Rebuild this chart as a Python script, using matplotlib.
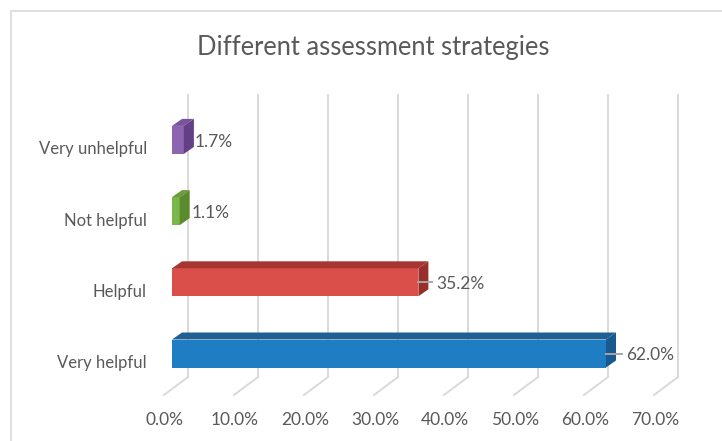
import matplotlib
matplotlib.use("Agg")
import matplotlib.pyplot as plt
from matplotlib.patches import Polygon, Rectangle
from matplotlib.transforms import ScaledTranslation

plt.rcParams['font.family'] = ['Lato', 'DejaVu Sans']

# ---- data ----
title = "Different assessment strategies"
categories = ["Very helpful", "Helpful", "Not helpful", "Very unhelpful"]
values = [62.0, 35.2, 1.1, 1.7]
xticks = [0, 10, 20, 30, 40, 50, 60, 70]
xtick_labels = ["0.0%", "10.0%", "20.0%", "30.0%", "40.0%", "50.0%", "60.0%", "70.0%"]

# ---- style ----
front_cols = ["#1f7dc4", "#db4f4a", "#7ab648", "#8c64b0"]
top_cols = ["#1f5f93", "#a73633", "#6a9c3a", "#7a52a0"]
side_cols = ["#185a8f", "#992e2b", "#5b8a2e", "#633f85"]
label_off_px = [20, 18, 12, 11]
leader = [True, True, False, False]
txt = "#595959"
grid_c = "#d9d9d9"

W, H = 722, 441
fig = plt.figure(figsize=(W / 100, H / 100), dpi=100)
fig.patch.set_facecolor("white")

# chart border
fig.add_artist(Rectangle((11 / W, -0.2), 2, (H - 11) / H + 0.2, transform=fig.transFigure,
                         fill=False, ec="#d9d9d9", lw=1.2))

ax_left, ax_bot, ax_top = 172, 46, 328
ax = fig.add_axes([ax_left / W, ax_bot / H, 490 / W, (ax_top - ax_bot) / H])
ax.set_facecolor("none")
for s in ax.spines.values():
    s.set_visible(False)

c0 = H - 353.5
sp = 71.2
ylo = (ax_bot - c0) / sp
yhi = (ax_top - c0) / sp
ax.set_xlim(0, 70)
ax.set_ylim(ylo, yhi)

def off(dx, dy):
    return ax.transData + ScaledTranslation(dx / 100, dy / 100, fig.dpi_scale_trans)

# back-wall gridlines + floor diagonals
for x in xticks:
    ax.plot([x, x], [ylo, yhi], color=grid_c, lw=1.4, transform=off(16, 18), clip_on=False, zorder=1)
    tr = ax.transData
    p0 = tr.transform((x, ylo))
    ax.plot([p0[0] + 16, p0[0] - 8], [p0[1] + 18, p0[1]], color=grid_c, lw=1.4,
            transform=None, clip_on=False, zorder=1)

# bars
bh = 28 / sp
hh = bh / 2
ypos = list(range(len(categories)))
ax.barh(ypos, values, height=bh, color=front_cols, zorder=3)
px_per_x = 490 / 70.0
dxd = 10 / px_per_x
dyd = 7 / sp
for i, (c, v) in enumerate(zip(ypos, values)):
    top = Polygon([(0, c + hh), (v, c + hh), (v + dxd, c + hh + dyd), (dxd, c + hh + dyd)],
                  closed=True, fc=top_cols[i], ec="none", zorder=3, clip_on=False)
    side = Polygon([(v, c - hh), (v, c + hh), (v + dxd, c + hh + dyd), (v + dxd, c - hh + dyd)],
                   closed=True, fc=side_cols[i], ec="none", zorder=3, clip_on=False)
    ax.add_patch(top)
    ax.add_patch(side)
    o = label_off_px[i]
    if leader[i]:
        p = ax.transData.transform((v, c))
        ax.plot([p[0], p[0] + o - 4], [p[1], p[1]], color="#a6a6a6", lw=1.4,
                transform=None, clip_on=False, zorder=4)
    ax.text(v, c, f"{v:.1f}%", transform=off(o, -2), ha="left", va="center",
            fontsize=12.5, color=txt, zorder=5, clip_on=False)

# axes ticks
ax.set_yticks(ypos)
ax.set_yticklabels(categories, fontsize=12, color=txt)
ax.tick_params(axis="y", length=0, pad=18)
for lab in ax.get_yticklabels():
    lab.set_transform(lab.get_transform() + ScaledTranslation(0, -8 / 100, fig.dpi_scale_trans))

ax.set_xticks(xticks)
ax.set_xticklabels(xtick_labels, fontsize=12.5, color=txt)
ax.tick_params(axis="x", length=0, pad=12)
for lab in ax.get_xticklabels():
    lab.set_transform(lab.get_transform() + ScaledTranslation(-7 / 100, 0, fig.dpi_scale_trans))

fig.text(373 / W, 1 - 47 / H, title, ha="center", va="center", fontsize=18.4, color=txt)

fig.savefig("out.png", dpi=100, facecolor="white")
